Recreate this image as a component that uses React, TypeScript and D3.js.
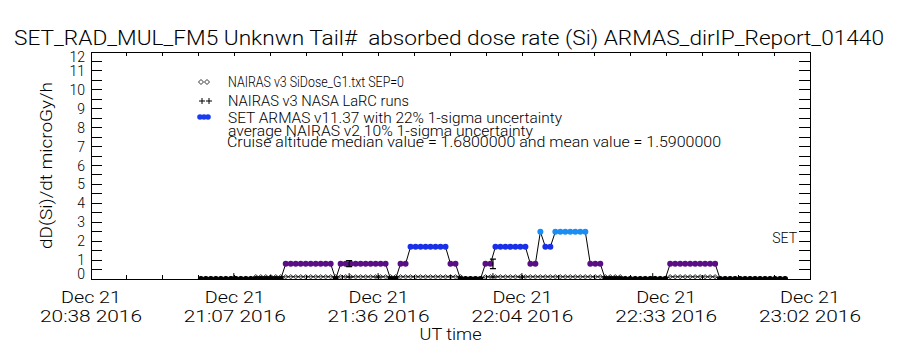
import React, { useEffect, useRef } from 'react';
import * as d3 from 'd3';

// time window of the plot (UT)
const startTime = '2016-12-21T20:38:30Z';
const endTime = '2016-12-21T23:02:30Z';

const xTickDay = ['Dec 21', 'Dec 21', 'Dec 21', 'Dec 21', 'Dec 21', 'Dec 21'];
const xTickTime = ['20:38 2016', '21:07 2016', '21:36 2016', '22:04 2016', '22:33 2016', '23:02 2016'];
const yTickLabels = [0, 1, 2, 3, 4, 5, 6, 7, 8, 9, 10, 11, 12];

// one sample per minute, starting at this time
const sampleStart = '2016-12-21T21:00:30Z';

// SET ARMAS v11.37 dose rate, microGy/h
const armasValues = [
  0, 0, 0, 0, 0, 0, 0, 0, 0, 0, 0, 0, 0, 0, 0, 0, 0,
  0.8, 0.8, 0.8, 0.8, 0.8, 0.8, 0.8, 0.8, 0.8, 0.8,
  0,
  0.8, 0.8, 0.8, 0.8, 0.8, 0.8, 0.8, 0.8, 0.8, 0.8,
  0, 0,
  0.8, 0.8,
  1.7, 1.7, 1.7, 1.7, 1.7, 1.7, 1.7, 1.7,
  0.8, 0.8,
  0, 0, 0, 0, 0,
  0.8, 0.8,
  1.7, 1.7, 1.7, 1.7, 1.7, 1.7, 1.7,
  0.8, 0.8,
  2.5,
  1.7, 1.7,
  2.5, 2.5, 2.5, 2.5, 2.5, 2.5, 2.5,
  0.8, 0.8, 0.8,
  0, 0, 0, 0, 0, 0, 0, 0, 0, 0, 0, 0, 0,
  0.8, 0.8, 0.8, 0.8, 0.8, 0.8, 0.8, 0.8, 0.8, 0.8,
  0, 0, 0, 0, 0, 0, 0, 0, 0, 0, 0, 0, 0, 0,
];

// NAIRAS v3 SiDose_G1.txt SEP=0
const nairasValues = [
  0.03, 0.03, 0.03, 0.03, 0.03, 0.03, 0.03, 0.03, 0.03, 0.03, 0.03,
  0.12, 0.12, 0.12, 0.12, 0.12, 0.12, 0.12, 0.12, 0.12, 0.12, 0.12, 0.12, 0.12, 0.12,
  0.12, 0.12, 0.12, 0.12, 0.12, 0.12, 0.12, 0.12, 0.12, 0.12, 0.12, 0.12, 0.12, 0.12,
  0.12, 0.12, 0.12, 0.12, 0.12, 0.12, 0.12, 0.12, 0.12, 0.12, 0.12, 0.12, 0.12, 0.12,
  0.02, 0.02, 0.02, 0.02,
  0.12, 0.12, 0.12, 0.12, 0.12, 0.12, 0.12, 0.12, 0.12, 0.12, 0.12, 0.12, 0.12, 0.12,
  0.12, 0.12, 0.12, 0.12, 0.12, 0.12, 0.12, 0.12, 0.12, 0.12, 0.12, 0.12, 0.12, 0.12,
  0.03, 0.03, 0.03, 0.03, 0.03, 0.03, 0.03, 0.03, 0.03,
  0.12, 0.12, 0.12, 0.12, 0.12, 0.12, 0.12, 0.12, 0.12, 0.12,
  0.03, 0.03, 0.03, 0.03, 0.03, 0.03, 0.03, 0.03, 0.03, 0.03, 0.03, 0.03, 0.03, 0.03,
];

// NAIRAS v3 NASA LaRC runs
const larcTimes = [
  '2016-12-21T21:07:06Z', '2016-12-21T21:30:12Z', '2016-12-21T21:36:00Z',
  '2016-12-21T21:59:00Z', '2016-12-21T22:04:48Z', '2016-12-21T22:31:00Z',
];
const larcValues = [0.1, 0.1, 0.1, 0.1, 0.1, 0.1];

// average NAIRAS v2 10% 1-sigma uncertainty
const errTimes = ['2016-12-21T21:30:12Z', '2016-12-21T21:59:00Z'];
const errLow = [0.65, 0.55];
const errHigh = [0.97, 1.05];

const title = 'SET_RAD_MUL_FM5 Unknwn Tail#  absorbed dose rate (Si) ARMAS_dirIP_Report_01440';
const legendLabels = [
  'NAIRAS v3 SiDose_G1.txt SEP=0',
  'NAIRAS v3 NASA LaRC runs',
  'SET ARMAS v11.37 with 22% 1-sigma uncertainty',
];
const noteLines = [
  'average NAIRAS v2 10% 1-sigma uncertainty',
  'Cruise altitude median value = 1.6800000 and mean value = 1.5900000',
];

const FONT = "Roboto, 'Liberation Sans', Arial, sans-serif";

const App: React.FC = () => {
  const svgRef = useRef<SVGSVGElement>(null);

  useEffect(() => {
    const svg = d3.select(svgRef.current);
    svg.selectAll('*').remove();

    const left = 91, right = 810, top = 52, bottom = 279;

    const xScale = d3.scaleUtc()
      .domain([new Date(startTime), new Date(endTime)])
      .range([left, right]);
    const yScale = d3.scaleLinear().domain([0, 12]).range([bottom, top]);

    const color = d3.scaleThreshold<number, string>()
      .domain([0.4, 1.2, 2.1])
      .range(['#000000', '#5a0e86', '#1a30e8', '#1a8ef2']);

    const t0 = new Date(sampleStart);
    const armas = armasValues.map((v, i) => ({ t: d3.utcMinute.offset(t0, i), v }));
    const nairas = nairasValues.map((v, i) => ({ t: d3.utcMinute.offset(t0, i), v }));

    // title
    svg.append('text')
      .attr('x', 14).attr('y', 45)
      .attr('font-size', 21)
      .attr('font-weight', 300)
      .style('white-space', 'pre')
      .attr('textLength', 870).attr('lengthAdjust', 'spacingAndGlyphs')
      .text(title);

    // clip
    svg.append('clipPath').attr('id', 'plot-clip')
      .append('rect')
      .attr('x', left).attr('y', top)
      .attr('width', right - left).attr('height', bottom - top);

    const g = svg.append('g').attr('clip-path', 'url(#plot-clip)');

    const line = d3.line<{ t: Date; v: number }>()
      .x(d => xScale(d.t))
      .y(d => yScale(d.v));

    // ARMAS line + dots
    g.append('path')
      .attr('d', line(armas) || '')
      .attr('fill', 'none')
      .attr('stroke', '#000')
      .attr('stroke-width', 1);

    g.selectAll('.armas')
      .data(armas)
      .enter().append('circle')
      .attr('class', 'armas')
      .attr('cx', d => xScale(d.t))
      .attr('cy', d => yScale(d.v))
      .attr('r', 3)
      .attr('fill', d => color(d.v));

    // NAIRAS diamonds
    g.append('path')
      .attr('d', line(nairas) || '')
      .attr('fill', 'none')
      .attr('stroke', '#000')
      .attr('stroke-width', 0.8);

    g.selectAll('.nairas')
      .data(nairas)
      .enter().append('path')
      .attr('class', 'nairas')
      .attr('d', d => {
        const cx = xScale(d.t), cy = yScale(d.v);
        return `M${cx - 2.5},${cy}L${cx},${cy - 2}L${cx + 2.5},${cy}L${cx},${cy + 2}Z`;
      })
      .attr('fill', 'none')
      .attr('stroke', '#000')
      .attr('stroke-width', 0.8);

    // LaRC pluses
    g.selectAll('.larc')
      .data(larcTimes.map((t, i) => ({ t: new Date(t), v: larcValues[i] })))
      .enter().append('path')
      .attr('class', 'larc')
      .attr('d', d => {
        const cx = xScale(d.t), cy = yScale(d.v);
        return `M${cx - 3.5},${cy}H${cx + 3.5}M${cx},${cy - 4}V${cy + 4}`;
      })
      .attr('stroke', '#000')
      .attr('stroke-width', 1);

    // error bars
    g.selectAll('.err')
      .data(errTimes.map((t, i) => ({ t: new Date(t), lo: errLow[i], hi: errHigh[i] })))
      .enter().append('path')
      .attr('class', 'err')
      .attr('d', d => {
        const cx = xScale(d.t), y1 = yScale(d.hi), y2 = yScale(d.lo);
        return `M${cx - 3},${y1}H${cx + 3}M${cx},${y1}V${y2}M${cx - 3},${y2}H${cx + 3}`;
      })
      .attr('stroke', '#000')
      .attr('stroke-width', 1.2)
      .attr('fill', 'none');

    // box + ticks
    const axes = svg.append('g').attr('shape-rendering', 'crispEdges').attr('stroke', '#000');
    axes.append('rect')
      .attr('x', left).attr('y', top)
      .attr('width', right - left).attr('height', bottom - top)
      .attr('fill', 'none');

    const yTicks = d3.range(0, 12.01, 0.5);
    yTicks.forEach(v => {
      const y = yScale(v);
      axes.append('line').attr('x1', left).attr('x2', left + 11).attr('y1', y).attr('y2', y);
      axes.append('line').attr('x1', right - 11).attr('x2', right).attr('y1', y).attr('y2', y);
    });

    const span = xScale.domain()[1].getTime() - xScale.domain()[0].getTime();
    const minorTicks = d3.range(21).map(i => new Date(xScale.domain()[0].getTime() + (span * i) / 20));
    minorTicks.forEach(t => {
      const x = xScale(t);
      axes.append('line').attr('x1', x).attr('x2', x).attr('y1', bottom).attr('y2', bottom - 4);
      axes.append('line').attr('x1', x).attr('x2', x).attr('y1', top).attr('y2', top + 4);
    });

    // y tick labels
    svg.append('g').selectAll('text')
      .data(yTickLabels)
      .enter().append('text')
      .attr('x', 85)
      .attr('y', d => Math.min(Math.max(yScale(d), top + 5), bottom - 5))
      .attr('dy', '0.36em')
      .attr('text-anchor', 'end')
      .attr('font-size', 14)
      .attr('font-weight', 300)
      .text(d => d);

    // x tick labels
    const majorTicks = d3.range(6).map(i => new Date(xScale.domain()[0].getTime() + (span * i) / 5));
    const xl = svg.append('g').attr('font-weight', 300);
    majorTicks.forEach((t, i) => {
      const x = xScale(t);
      xl.append('text')
        .attr('x', x).attr('y', 303)
        .attr('text-anchor', 'middle')
        .attr('font-size', 17)
        .attr('textLength', 60).attr('lengthAdjust', 'spacingAndGlyphs')
        .text(xTickDay[i]);
      xl.append('text')
        .attr('x', x).attr('y', 322)
        .attr('text-anchor', 'middle')
        .attr('font-size', 17)
        .attr('textLength', 102).attr('lengthAdjust', 'spacingAndGlyphs')
        .text(xTickTime[i]);
    });

    svg.append('text')
      .attr('x', (left + right) / 2).attr('y', 340)
      .attr('text-anchor', 'middle')
      .attr('font-size', 17)
      .attr('font-weight', 300)
      .attr('textLength', 62).attr('lengthAdjust', 'spacingAndGlyphs')
      .text('UT time');

    svg.append('text')
      .attr('transform', `translate(52,${(top + bottom) / 2}) rotate(-90)`)
      .attr('text-anchor', 'middle')
      .attr('font-size', 17)
      .attr('font-weight', 300)
      .attr('textLength', 167).attr('lengthAdjust', 'spacingAndGlyphs')
      .text('dD(Si)/dt microGy/h');

    // legend
    const lg = svg.append('g').attr('font-weight', 300);
    const legendY = [82, 101, 118];
    const legendLen = [176, 181, 334];
    legendLabels.forEach((lab, i) => {
      lg.append('text')
        .attr('x', 228).attr('y', legendY[i])
        .attr('dy', '0.36em')
        .attr('font-size', 14)
        .attr('textLength', legendLen[i]).attr('lengthAdjust', 'spacingAndGlyphs')
        .text(lab);
    });
    [201, 207].forEach(cx => {
      const cy = legendY[0];
      lg.append('path')
        .attr('d', `M${cx - 2.5},${cy}L${cx},${cy - 2.5}L${cx + 2.5},${cy}L${cx},${cy + 2.5}Z`)
        .attr('fill', 'none').attr('stroke', '#000').attr('stroke-width', 0.8);
    });
    [202, 209].forEach(cx => {
      const cy = legendY[1];
      lg.append('path')
        .attr('d', `M${cx - 3},${cy}H${cx + 3}M${cx},${cy - 3}V${cy + 3}`)
        .attr('stroke', '#000').attr('stroke-width', 1);
    });
    [200, 204, 208].forEach(cx => {
      lg.append('circle').attr('cx', cx).attr('cy', legendY[2] - 1).attr('r', 2.8).attr('fill', '#1a3cf0');
    });

    const noteY = [131, 142];
    const noteLen = [305, 494];
    noteLines.forEach((s, i) => {
      lg.append('text')
        .attr('x', i === 0 ? 228 : 227).attr('y', noteY[i])
        .attr('dy', '0.36em')
        .attr('font-size', 14)
        .attr('textLength', noteLen[i]).attr('lengthAdjust', 'spacingAndGlyphs')
        .text(s);
    });

    svg.append('text')
      .attr('x', 797).attr('y', 243)
      .attr('text-anchor', 'end')
      .attr('font-size', 14)
      .attr('font-weight', 300)
      .text('SET');
  }, []);

  return (
    <div style={{ position: 'absolute', left: 0, top: 0 }}>
      <svg ref={svgRef} width={900} height={350}
        style={{ display: 'block', background: '#fff', fontFamily: FONT }} />
    </div>
  );
};

export default App;
